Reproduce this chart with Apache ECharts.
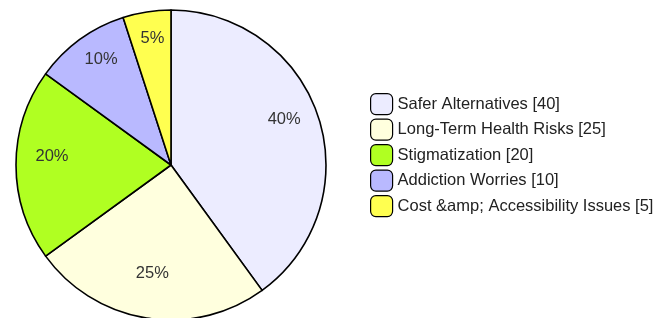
<!DOCTYPE html>
<html><head><meta charset="utf-8">
<script src="https://cdn.jsdelivr.net/npm/echarts@6/dist/echarts.min.js"></script>
<style>html,body{margin:0;padding:0;background:#fff}#c{width:670px;height:318px}</style>
</head><body><div id="c"></div>
<script>
const categories = ["Safer Alternatives", "Long-Term Health Risks", "Stigmatization", "Addiction Worries", "Cost &amp; Accessibility Issues"];
const values = [40, 25, 20, 10, 5];
const colors = ["#ECECFF", "#FFFFDE", "#B0FF22", "#B9B9FF", "#FFFF50"];

const total = values.reduce((a, b) => a + b, 0);
const font = 'Liberation Sans, Arial, sans-serif';
const chart = echarts.init(document.getElementById('c'), null, {renderer: 'canvas'});
chart.setOption({
  animation: false,
  color: colors,
  legend: {
    orient: 'vertical',
    left: 370,
    top: 93,
    padding: 0,
    itemWidth: 22,
    itemHeight: 21,
    itemGap: 3.3,
    icon: 'roundRect',
    itemStyle: {borderColor: '#000', borderWidth: 1.2},
    textStyle: {fontFamily: font, fontSize: 16.5, color: '#222'},
    formatter: function (name) {
      const i = categories.indexOf(name);
      return name + ' [' + values[i] + ']';
    },
    data: categories
  },
  series: [{
    type: 'pie',
    center: [171, 165],
    radius: 155,
    startAngle: 90,
    clockwise: true,
    silent: true,
    itemStyle: {borderColor: '#000', borderWidth: 1.6},
    label: {show: false},
    labelLine: {show: false},
    data: categories.map((c, i) => ({name: c, value: values[i]}))
  }, {
    type: 'pie',
    center: [171, 165],
    radius: [77, 155],
    startAngle: 90,
    clockwise: true,
    silent: true,
    legendHoverLink: false,
    itemStyle: {color: 'rgba(0,0,0,0)', borderWidth: 0},
    label: {
      position: 'inside',
      offset: [0, -9],
      formatter: function (p) { return Math.round(p.value / total * 100) + '%'; },
      fontFamily: font,
      fontSize: 16.5,
      color: '#333'
    },
    labelLine: {show: false},
    data: categories.map((c, i) => ({name: c, value: values[i]}))
  }]
});
</script></body></html>
